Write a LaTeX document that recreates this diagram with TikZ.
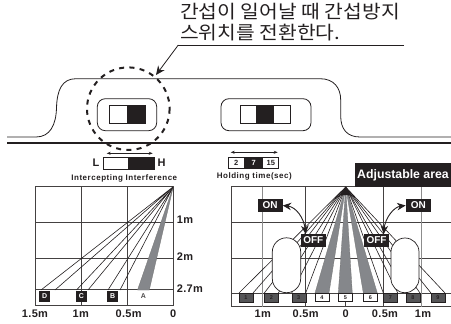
\documentclass[tikz,border=0pt]{standalone}
\usepackage{fontspec}
\usepackage{graphicx}
\setmainfont{Liberation Sans}
\newfontfamily\krfont{Noto Sans CJK KR}
\newfontfamily\lsp[LetterSpace=6.5]{Liberation Sans}
\newfontfamily\lspb[LetterSpace=3]{Liberation Sans}
\usetikzlibrary{arrows.meta}
\definecolor{beamgray}{HTML}{85878B}
\definecolor{boxgray}{HTML}{555557}
\definecolor{inkc}{HTML}{231F20}
\newcommand{\fs}[1]{\fontsize{#1}{#1}\selectfont}
\newcommand{\krw}[1]{\scalebox{1.1}[1]{#1}}
\tikzset{
  x=1pt,y=-1pt,
  inkline/.style={draw=inkc,line width=0.8pt},
  gridline/.style={draw=inkc!85,line width=0.7pt},
  graygrid/.style={draw=black!45,line width=1pt},
  beam/.style={draw=inkc,line width=0.6pt,line join=round},
  graybeam/.style={fill=beamgray,draw=black!55,line width=0.3pt},
  axislabel/.style={font=\lspb\bfseries\fs{11},text=inkc,inner sep=0pt},
  smalllabel/.style={inner sep=0pt,text=inkc,font=\lsp\bfseries\fs{8}},
  headline/.style={anchor=west,inner sep=0pt,text=inkc,font=\krfont\fs{18.5}},
  tagbox/.style={fill=inkc,text=white,font=\bfseries\fs{10},inner sep=0pt,minimum width=25pt,minimum height=12.4pt},
  letterbox/.style={fill=inkc,text=white,font=\bfseries\fs{7},inner sep=0pt,minimum width=10.7pt,minimum height=11pt},
  darkbox/.style={fill=boxgray,draw=inkc,line width=0.4pt,text=inkc,font=\bfseries\fs{5.5},inner sep=0pt,minimum width=14pt,minimum height=8.4pt},
  whitebox/.style={fill=white,draw=inkc,line width=0.6pt,text=inkc,font=\bfseries\fs{5.5},inner sep=0pt,minimum width=14pt,minimum height=8.4pt},
  person/.style={fill=white,draw=inkc,line width=0.7pt},
  dbl/.style={{Stealth[length=4pt,width=3pt]}-{Stealth[length=4pt,width=3pt]},draw=inkc,line width=0.6pt},
  curved/.style={{Stealth[length=8.5pt,width=7.5pt]}-{Stealth[length=8.5pt,width=7.5pt]},draw=inkc,line width=0.9pt},
}
\begin{document}
\begin{tikzpicture}
\useasboundingbox (0,0) rectangle (451,324);
% heading
\node[headline] (t1) at (180,11.7) {\krw{간섭이 일어날 때 간섭방지}};
\node[headline] (t2) at (180,33) {\krw{스위치를 전환한다.}};
\coordinate (lead0) at (404,45);
\coordinate (lead1) at (178.3,45);
\coordinate (lead2) at (156,75);
\draw[inkline] (lead0) -- (lead1);
\draw[inkline,-{Stealth[length=9pt,width=8pt]}] (lead1) -- (lead2);
% housing
\draw[inkline] (7,137) -- (36,137) .. controls (50,137) and (56,125) .. (56.5,108)
  .. controls (57,90) and (62,78.7) .. (76,78.7) -- (320,78.7)
  .. controls (334,78.7) and (340.7,88) .. (340.7,100) -- (340.7,116)
  .. controls (340.7,129) and (347,137) .. (360,137) -- (451,137);
\draw[inkc,line width=1.3pt] (7,143) -- (451,143);
% switches
\draw[inkline,rounded corners=8pt] (97.3,98.7) rectangle (156.7,130.7);
\draw[inkline] (109.3,105.3) rectangle (145,123.3);
\fill[inkc] (127.3,105.3) rectangle (145,123.3);
\draw[inkline,rounded corners=8pt] (221,98.7) rectangle (311,130.7);
\draw[inkline] (240,105.3) rectangle (290,123.3);
\fill[inkc] (255.7,105.3) rectangle (274.3,123.3);
\draw[inkc,line width=2pt,dash pattern=on 5pt off 5.3pt] (128.3,108.7) circle [radius=41.3];
% L-H selector
\coordinate (lh0) at (106.7,153.3); \coordinate (lh1) at (152.7,153.3);
\draw[dbl] (lh0) -- (lh1);
\node[axislabel] (labL) at (96,162.5) {L};
\node[axislabel] (labH) at (161.7,162.5) {H};
\draw[inkc,line width=0.9pt] (103.3,157.3) rectangle (154.3,169);
\fill[inkc] (128.3,157.3) rectangle (154.3,169);
\node[smalllabel] (ii) at (124.3,178.3) {Intercepting Interference};
% holding selector
\coordinate (ho0) at (230.7,152.3); \coordinate (ho1) at (277.7,152.3);
\draw[dbl] (ho0) -- (ho1);
\draw[inkc,line width=0.8pt] (228.3,157.3) rectangle (278.3,168.3);
\fill[inkc] (244.3,157.3) rectangle (263.3,168.3);
\node[inner sep=0pt,text=inkc,font=\bfseries\fs{7.5}] (h2) at (236.3,163) {2};
\node[inner sep=0pt,text=white,font=\bfseries\fs{7.5}] (h7) at (253.8,163) {7};
\node[inner sep=0pt,text=inkc,font=\bfseries\fs{7.5}] (h15) at (270.8,163) {15};
\node[smalllabel] (ht) at (254.3,176) {Holding time(sec)};
% left chart grid
\foreach \y in {186.7,222.3,258.3,289.3,305.7} \draw[gridline] (35,\y) -- (173.3,\y);
\foreach \x in {35,81.3,127.3,173.3} \draw[gridline] (\x,186.7) -- (\x,305.7);
% left chart beams
\coordinate (lap) at (173.3,186.7);
\draw[graybeam] (lap) -- (137.5,290) -- (149.3,290) -- cycle;
\foreach \a/\b in {41/55,76.5/88,108/120} {
  \draw[beam] (\a,290) -- (lap) -- (\b,290);
}
\node[letterbox] (bd) at (44.7,296.2) {D};
\node[letterbox] (bc) at (81.3,296.2) {C};
\node[letterbox] (bb) at (112.7,296.2) {B};
\node[inner sep=0pt,text=inkc!80,font=\bfseries\fs{7}] (ba) at (143.3,296.2) {A};
\node[axislabel,anchor=west] (y1) at (176.7,220) {1m};
\node[axislabel,anchor=west] (y2) at (176.7,257) {2m};
\node[axislabel,anchor=west] (y3) at (176.7,288.3) {2.7m};
\node[axislabel] (x15) at (35,314) {1.5m};
\node[axislabel] (x1) at (80.7,314) {1m};
\node[axislabel] (x05) at (128.7,314) {0.5m};
\node[axislabel] (x0) at (173.3,314) {0};
% right chart grid
\foreach \y in {186.7,222.3,258.5,293,306.5} \draw[gridline] (231,\y) -- (451,\y);
\draw[gridline] (231,186.7) -- (231,306.5);
\draw[graygrid] (262.7,186.7) -- (262.7,306.5);
\draw[gridline] (305.7,186.7) -- (305.7,306.5);
\draw[gridline] (383.3,186.7) -- (383.3,306.5);
\draw[graygrid] (421.7,186.7) -- (421.7,306.5);
\coordinate (rap) at (345.7,187);
\draw[gridline] (rap) -- (345.7,200);
\draw[gridline] (345.7,301) -- (345.7,306.5);
% right chart beams
\foreach \a/\b in {315/329,338.3/352.3,363.3/377.3} {
  \draw[graybeam] (rap) -- (\a,293) -- (\b,293) -- cycle;
}
\foreach \a/\b in {239/253,264.3/278.3,291.7/305.7,383.3/397.7,406/420,431/445} {
  \draw[beam] (\a,293) -- (rap) -- (\b,293);
}
\fill[inkc] (rap) -- (340.5,195) -- (351,195) -- cycle;
% people
\draw[person] (272.3,252) arc (180:360:14.2) -- (300.7,278.5) arc (0:180:14.2) -- cycle;
\draw[person] (391,252) arc (180:360:14) -- (419,278.7) arc (0:180:14) -- cycle;
% numbered boxes
\foreach \n/\c in {1/246,2/271.3,3/298.7,7/390.5,8/413,9/438} {
  \node[darkbox] (z\n) at (\c,297.5) {\n};
}
\foreach \n/\c in {4/322,5/345.3,6/370.3} {
  \node[whitebox] (z\n) at (\c,297.5) {\n};
}
\node[axislabel] (r1a) at (262.7,314) {1m};
\node[axislabel] (r05a) at (305.7,314) {0.5m};
\node[axislabel] (r0) at (345.7,314) {0};
\node[axislabel] (r05b) at (385,314) {0.5m};
\node[axislabel] (r1b) at (423,314) {1m};
% area tag
\node[fill=inkc,text=white,font=\bfseries\fs{12.3},inner sep=0pt,minimum width=96pt,minimum height=23.4pt] (area) at (403,175) {Adjustable area};
% ON/OFF
\node[tagbox] (onl) at (270,205.5) {ON};
\node[tagbox] (onr) at (418.3,205.5) {ON};
\node[tagbox] (offl) at (313.3,240.5) {OFF};
\node[tagbox] (offr) at (376.5,240.5) {OFF};
\draw[curved] (onl.east) .. controls (296,207) and (304,218) .. ([xshift=5pt]offl.north west);
\draw[curved] (onr.west) .. controls (394,207) and (385,218) .. ([xshift=-5.5pt]offr.north east);
\end{tikzpicture}
\end{document}
